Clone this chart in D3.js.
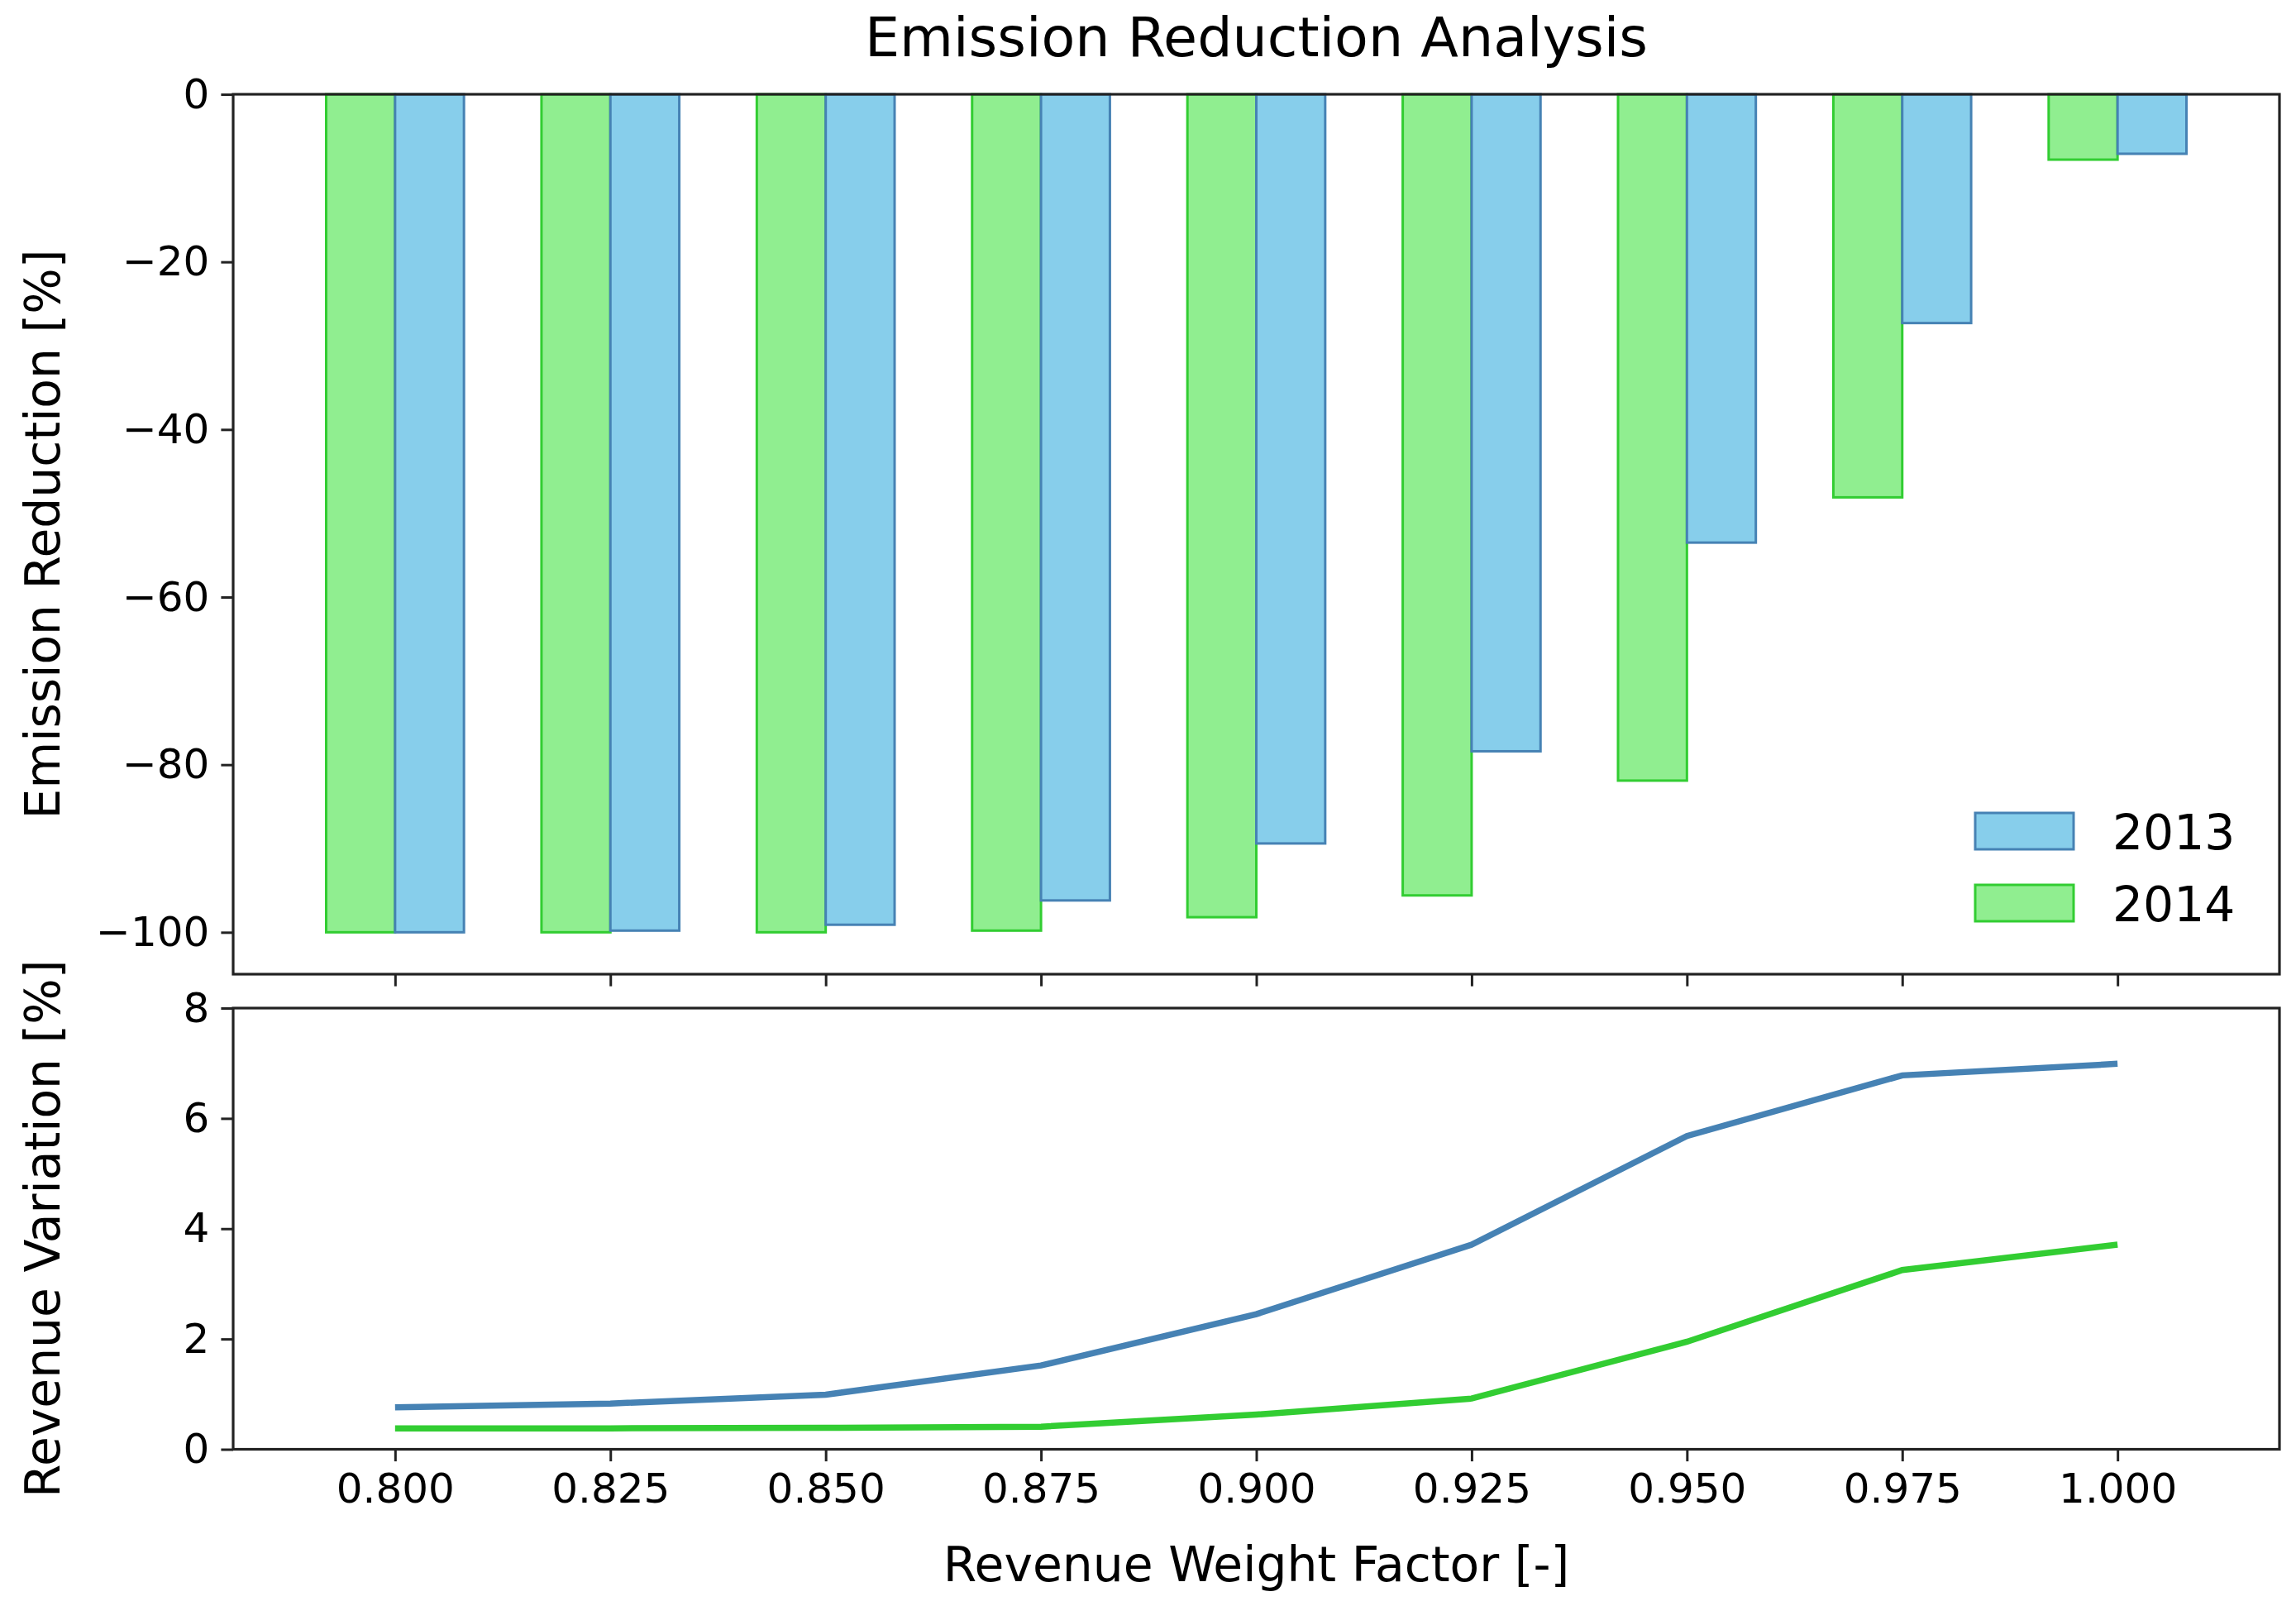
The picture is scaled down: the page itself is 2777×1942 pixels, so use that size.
<!doctype html>
<html>

<head>
	<meta charset="utf-8">
	<style>
		body { margin: 0; background: #fff; }
		text { font-family: "DejaVu Sans", sans-serif; fill: #000; }
	</style>
</head>

<body>
	<div class="chart"></div>

	<script src="https://d3js.org/d3.v7.min.js"></script>
	<script>
		// values
		let factors = [0.800, 0.825, 0.850, 0.875, 0.900, 0.925, 0.950, 0.975, 1.000];
		let emis2013 = [-100, -99.8, -99.1, -96.2, -89.4, -78.4, -53.5, -27.3, -7.1];
		let emis2014 = [-100, -100, -100, -99.8, -98.2, -95.6, -81.9, -48.1, -7.8];
		let rev2013 = [0.76, 0.83, 0.99, 1.52, 2.45, 3.71, 5.68, 6.78, 6.99];
		let rev2014 = [0.38, 0.38, 0.39, 0.41, 0.63, 0.92, 1.95, 3.25, 3.71];
		let years = ["2013", "2014"];
		let topTicks = [0, -20, -40, -60, -80, -100];
		let botTicks = [0, 2, 4, 6, 8];

		let width = 2777,
			height = 1942,
			left = 282,
			right = 2757,
			barW = 0.008;

		let fill = { "2013": "#87ceeb", "2014": "#90ee90" };
		let edge = { "2013": "#4682b4", "2014": "#32cd32" };

		let svg = d3.select(".chart")
			.append("svg")
			.attr("width", width)
			.attr("height", height);

		let scaleX = d3.scaleLinear()
			.domain([0.8 - barW - 0.0108, 1.0 + barW + 0.0108])
			.range([left, right]);

		let yTop = d3.scaleLinear().domain([-105, 0]).range([1178, 114]);
		let yBot = d3.scaleLinear().domain([0, 8]).range([1752.5, 1219]);

		let minus = d => String(d).replace("-", "\u2212");

		// bars
		let bars = svg.append("g");
		factors.forEach((f, i) => {
			bars.append("rect")
				.attr("x", scaleX(f - barW))
				.attr("y", yTop(0))
				.attr("width", scaleX(f) - scaleX(f - barW))
				.attr("height", yTop(emis2014[i]) - yTop(0))
				.style("fill", fill["2014"])
				.style("stroke", edge["2014"])
				.style("stroke-width", 3);
			bars.append("rect")
				.attr("x", scaleX(f))
				.attr("y", yTop(0))
				.attr("width", scaleX(f + barW) - scaleX(f))
				.attr("height", yTop(emis2013[i]) - yTop(0))
				.style("fill", fill["2013"])
				.style("stroke", edge["2013"])
				.style("stroke-width", 3);
		});

		// lines
		let lineF = (ys) => d3.line()
			.x((d, i) => scaleX(factors[i]))
			.y(d => yBot(d))(ys);

		svg.append("path")
			.attr("d", lineF(rev2013))
			.style("fill", "none")
			.style("stroke", edge["2013"])
			.style("stroke-width", 7.5);
		svg.append("path")
			.attr("d", lineF(rev2014))
			.style("fill", "none")
			.style("stroke", edge["2014"])
			.style("stroke-width", 7.5);

		// axes
		function styleAxis(g) {
			g.selectAll(".domain").remove();
			g.selectAll("line").style("stroke", "#222").style("stroke-width", 3);
			g.selectAll("text").style("font-size", "50px").style("fill", "#000");
		}

		svg.append("g")
			.attr("transform", "translate(0," + yTop.range()[0] + ")")
			.call(d3.axisBottom(scaleX).tickValues(factors).tickSize(14.6).tickFormat(""))
			.call(styleAxis);

		svg.append("g")
			.attr("transform", "translate(0," + yBot.range()[0] + ")")
			.call(d3.axisBottom(scaleX).tickValues(factors).tickSize(14.6).tickPadding(14)
				.tickFormat(d3.format(".3f")))
			.call(styleAxis);

		svg.append("g")
			.attr("transform", "translate(" + left + ",0)")
			.call(d3.axisLeft(yTop).tickValues(topTicks).tickSize(14.6).tickPadding(14).tickFormat(minus))
			.call(styleAxis);

		svg.append("g")
			.attr("transform", "translate(" + left + ",0)")
			.call(d3.axisLeft(yBot).tickValues(botTicks).tickSize(14.6).tickPadding(14))
			.call(styleAxis);

		// frames
		[yTop, yBot].forEach(s => {
			svg.append("rect")
				.attr("x", left)
				.attr("y", s.range()[1])
				.attr("width", right - left)
				.attr("height", s.range()[0] - s.range()[1])
				.style("fill", "none")
				.style("stroke", "#222")
				.style("stroke-width", 3.2);
		});

		// legend
		let legend = svg.append("g");
		years.forEach((y, i) => {
			let top = 983 + i * 87;
			legend.append("rect")
				.attr("x", 2389)
				.attr("y", top)
				.attr("width", 119)
				.attr("height", 44)
				.style("fill", fill[y])
				.style("stroke", edge[y])
				.style("stroke-width", 3);
			legend.append("text")
				.attr("x", 2555)
				.attr("y", top + 44)
				.style("font-size", "58.3px")
				.text(y);
		});

		// titles
		svg.append("text")
			.attr("x", (left + right) / 2)
			.attr("y", 68)
			.attr("text-anchor", "middle")
			.style("font-size", "66.7px")
			.text("Emission Reduction Analysis");

		svg.append("text")
			.attr("x", (left + right) / 2)
			.attr("y", 1912)
			.attr("text-anchor", "middle")
			.style("font-size", "58.3px")
			.text("Revenue Weight Factor [-]");

		svg.append("text")
			.attr("transform", "translate(72," + (yTop.range()[0] + yTop.range()[1]) / 2 + ") rotate(-90)")
			.attr("text-anchor", "middle")
			.style("font-size", "58.3px")
			.text("Emission Reduction [%]");

		svg.append("text")
			.attr("transform", "translate(72," + (yBot.range()[0] + yBot.range()[1]) / 2 + ") rotate(-90)")
			.attr("text-anchor", "middle")
			.style("font-size", "58.3px")
			.text("Revenue Variation [%]");
	</script>

</body>

</html>
